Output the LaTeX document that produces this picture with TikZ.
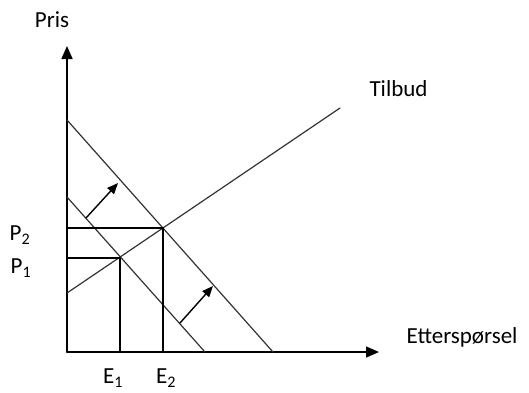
\documentclass[tikz,border=0pt]{standalone}
\usepackage{fontspec}
\setmainfont{Carlito}
\usetikzlibrary{arrows.meta}
\begin{document}
\begin{tikzpicture}[x=1pt, y=-1pt, line join=round, line cap=round, >={Triangle[length=11pt,width=9pt]}, font=\fontsize{23}{26}\selectfont]
	\tikzset{curve/.style={line width=1.2pt, black!80},
		axis/.style={line width=1.6pt, ->, >={Triangle[length=13pt,width=11pt]}},
		shiftarrow/.style={line width=1.4pt, ->}}
	\useasboundingbox (0,0) rectangle (529,392);
	\path (67,352) coordinate (O)
	(67,46) coordinate (Ytop)
	(379,352) coordinate (Xend)
	(67,293) coordinate (S0)
	(340,108) coordinate (S1)
	(67,197) coordinate (D1a)
	(205,352) coordinate (D1b)
	(67,120) coordinate (D2a)
	(273,352) coordinate (D2b)
	(120,258) coordinate (M1)
	(163,228) coordinate (M2)
	(67,258) coordinate (P1)
	(67,228) coordinate (P2)
	(120,352) coordinate (E1)
	(163,352) coordinate (E2)
	(86,218) coordinate (A1)
	(118,183) coordinate (B1)
	(180,323) coordinate (A2)
	(213,286) coordinate (B2)
	;
	\draw[axis] (O) -- (Ytop);
	\draw[axis] (O) -- (Xend);
	\draw[curve] (S0) -- (S1);
	\draw[curve] (D1a) -- (D1b);
	\draw[curve] (D2a) -- (D2b);
	%\draw[dashed] (M1) -- (M2);
	\draw[line width=1.2pt] (P1) -- (M1) -- (E1);
	\draw[line width=1.2pt] (P2) -- (M2) -- (E2);
	\draw[shiftarrow] (A1) -- (B1);
	\draw[shiftarrow] (A2) -- (B2);
	\node (pris) at (52,20) {Pris};
	\node[anchor=west] (tilbud) at (366,89) {Tilbud};
	\node[anchor=west] (ettersporsel) at (403,337) {Etterspørsel};
	\foreach \n/\t/\x/\y in {p2/P\textsubscript{2}/20/235, p1/P\textsubscript{1}/21/268, e1/E\textsubscript{1}/113/378, e2/E\textsubscript{2}/166/378}
	\node[inner sep=1pt] (\n) at (\x,\y) {\t};
\end{tikzpicture}
\end{document}
